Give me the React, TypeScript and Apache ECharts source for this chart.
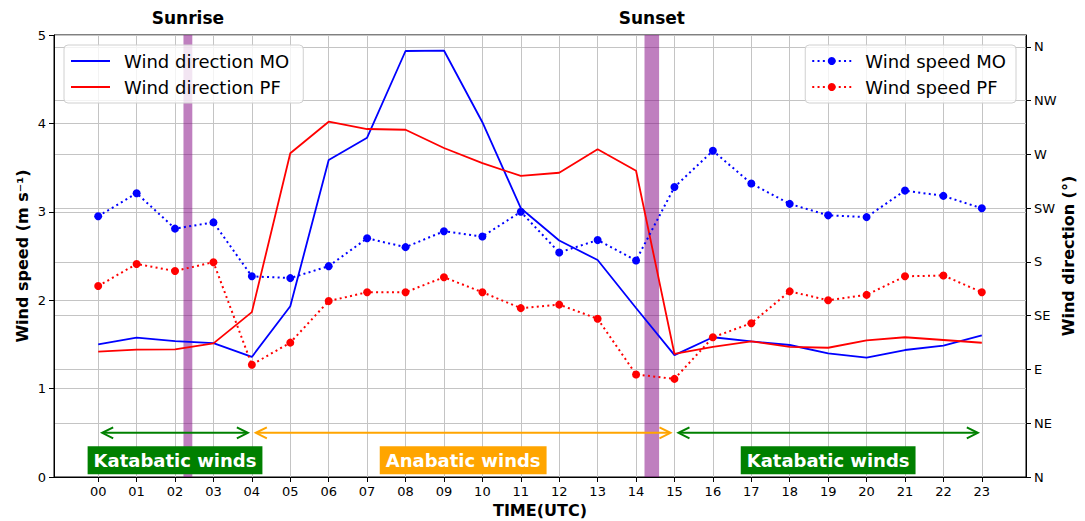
import { useEffect, useRef } from "react";
import * as echarts from "echarts";

// Hour of day (UTC)
const hours = [0, 1, 2, 3, 4, 5, 6, 7, 8, 9, 10, 11, 12, 13, 14, 15, 16, 17, 18, 19, 20, 21, 22, 23];

// Wind direction (degrees) at the two stations
const dirMO = [111, 116.6, 113.8, 112, 100.5, 143, 265.3, 284, 356.6, 357, 297, 225, 198, 181.6, 141.5, 102, 117, 113.5, 110.5, 103.5, 100, 106.3, 110, 118.6];
const dirPF = [104.9, 106.6, 106.9, 111.9, 138, 271, 297.4, 291.3, 290.7, 275.4, 262.8, 252, 254.7, 274.3, 256.4, 103, 109, 113.5, 109, 108.2, 114.4, 117, 114.7, 112.4];

// Wind speed (m/s) at the two stations
const speedMO = [2.95, 3.21, 2.81, 2.88, 2.27, 2.25, 2.385, 2.7, 2.6, 2.78, 2.72, 3.0, 2.54, 2.68, 2.45, 3.28, 3.69, 3.32, 3.09, 2.96, 2.94, 3.24, 3.18, 3.04];
const speedPF = [2.16, 2.41, 2.33, 2.43, 1.27, 1.52, 1.99, 2.09, 2.09, 2.26, 2.09, 1.91, 1.95, 1.79, 1.16, 1.11, 1.58, 1.74, 2.1, 2.0, 2.06, 2.27, 2.28, 2.09];

// Right axis: compass ticks
const compassTicks = [0, 45, 90, 135, 180, 225, 270, 315, 360];
const compassLabels = ["N", "NE", "E", "SE", "S", "SW", "W", "NW", "N"];

// Sunrise / sunset windows (hours)
const sunNames = ["Sunrise", "Sunset"];
const sunFrom = [2.22, 14.22];
const sunTo = [2.45, 14.6];

// Wind regimes
const regimeStart = [0, 4, 15];
const regimeEnd = [4, 15, 23];
const regimeCenter = [2, 9.5, 19];
const regimeNames = ["Katabatic winds", "Anabatic winds", "Katabatic winds"];
const regimeColors = ["#008000", "#ffa500", "#008000"];
const arrowLevel = 0.5;
const labelLevel = 0.19;

const FONT = "DejaVu Sans";
const BLUE = "#0000ff";
const RED = "#ff0000";
const GRID = "#c4c4c4";

const pad2 = (v: number) => (v < 10 ? "0" + v : String(v));

export default function App() {
  const ref = useRef<HTMLDivElement>(null);

  useEffect(() => {
    if (!ref.current) return;
    const chart = echarts.init(ref.current, undefined, { renderer: "svg" });

    const pairs = (vals: number[]) => hours.map((h, i) => [h, vals[i]]);

    const axisText = { fontFamily: FONT, fontSize: 13, color: "#000" };
    const nameText = { fontFamily: FONT, fontSize: 16, fontWeight: "bold" as const, color: "#000" };

    const legendBase = {
      orient: "vertical" as const,
      top: 45,
      backgroundColor: "rgba(255,255,255,0.8)",
      borderColor: "#d0d0d0",
      borderWidth: 1,
      borderRadius: 4,
      padding: [7, 14, 7, 6],
      itemWidth: 39,
      itemHeight: 10,
      itemGap: 8,
      selectedMode: false,
      textStyle: { fontFamily: FONT, fontSize: 18, color: "#000", lineHeight: 18, padding: [0, 0, 0, 9] },
    };

    const option: any = {
      animation: false,
      backgroundColor: "#fff",
      textStyle: { fontFamily: FONT },
      grid: {
        left: 54,
        right: 59,
        top: 35,
        bottom: 44,
        outerBoundsMode: "none",
        containLabel: false,
        show: true,
        borderColor: "#000",
        borderWidth: 1,
      },
      legend: [
        {
          ...legendBase,
          left: 64,
          data: [
            { name: "Wind direction MO", itemStyle: { opacity: 0 } },
            { name: "Wind direction PF", itemStyle: { opacity: 0 } },
          ],
        },
        { ...legendBase, right: 69, padding: [7, 10, 7, 6], data: ["Wind speed MO", "Wind speed PF"] },
      ],
      xAxis: {
        type: "value",
        min: -1.15,
        max: 24.15,
        name: "TIME(UTC)",
        nameLocation: "middle",
        nameGap: 25,
        nameMoveOverlap: false,
        nameTextStyle: nameText,
        axisLine: { show: true, onZero: false, lineStyle: { color: "#000", width: 1 } },
        axisTick: { show: true, customValues: hours, length: 5, lineStyle: { color: "#000" } },
        axisLabel: { customValues: hours, formatter: (v: number) => pad2(v), margin: 8, ...axisText },
        splitLine: { show: true, lineStyle: { color: GRID, width: 1 } },
      },
      yAxis: [
        {
          type: "value",
          min: 0,
          max: 5,
          interval: 1,
          position: "left",
          name: "Wind speed (m s⁻¹)",
          nameLocation: "middle",
          nameGap: 24,
          nameMoveOverlap: false,
          nameRotate: 90,
          nameTextStyle: nameText,
          axisLine: { show: true, onZero: false, lineStyle: { color: "#000", width: 1 } },
          axisTick: { show: true, length: 5, lineStyle: { color: "#000" } },
          axisLabel: { margin: 8, ...axisText },
          splitLine: { show: true, lineStyle: { color: GRID, width: 1 } },
        },
        {
          type: "value",
          min: 0,
          max: 370,
          position: "right",
          name: "Wind direction (°)",
          nameLocation: "middle",
          nameGap: 34,
          nameMoveOverlap: false,
          nameRotate: 90,
          nameTextStyle: nameText,
          axisLine: { show: true, onZero: false, lineStyle: { color: "#000", width: 1 } },
          axisTick: { show: true, customValues: compassTicks, length: 5, lineStyle: { color: "#000" } },
          axisLabel: {
            customValues: compassTicks,
            formatter: (v: number) => compassLabels[compassTicks.indexOf(v)] ?? "",
            margin: 8,
            ...axisText,
          },
          splitLine: { show: true, lineStyle: { color: GRID, width: 1 } },
        },
      ],
      series: [
        {
          name: "sun",
          type: "line",
          data: [],
          silent: true,
          z: 1,
          markArea: {
            silent: true,
            itemStyle: { color: "rgba(128,0,128,0.5)" },
            label: {
              show: true,
              position: "top",
              distance: 9,
              fontFamily: FONT,
              fontSize: 17,
              fontWeight: "bold",
              color: "#000",
            },
            data: sunNames.map((n, i) => [{ name: n, xAxis: sunFrom[i] }, { xAxis: sunTo[i] }]),
          },
        },
        {
          name: "Wind direction MO",
          type: "line",
          yAxisIndex: 1,
          data: pairs(dirMO),
          symbol: "none",
          color: BLUE,
          lineStyle: { color: BLUE, width: 1.8 },
          z: 3,
        },
        {
          name: "Wind direction PF",
          type: "line",
          yAxisIndex: 1,
          data: pairs(dirPF),
          symbol: "none",
          color: RED,
          lineStyle: { color: RED, width: 1.8 },
          z: 3,
        },
        {
          name: "Wind speed MO",
          type: "line",
          yAxisIndex: 0,
          data: pairs(speedMO),
          symbol: "circle",
          symbolSize: 8,
          color: BLUE,
          itemStyle: { color: BLUE },
          lineStyle: { color: BLUE, width: 2, type: [2, 3.3] },
          z: 4,
        },
        {
          name: "Wind speed PF",
          type: "line",
          yAxisIndex: 0,
          data: pairs(speedPF),
          symbol: "circle",
          symbolSize: 8,
          color: RED,
          itemStyle: { color: RED },
          lineStyle: { color: RED, width: 2, type: [2, 3.3] },
          z: 4,
        },
        {
          name: "regime arrows",
          type: "custom",
          yAxisIndex: 0,
          silent: true,
          z: 5,
          data: regimeStart.map((s, i) => [s, regimeEnd[i], arrowLevel]),
          encode: { x: [0, 1], y: 2 },
          renderItem: (params: any, api: any) => {
            const a = api.coord([api.value(0), api.value(2)]);
            const b = api.coord([api.value(1), api.value(2)]);
            const color = regimeColors[params.dataIndex];
            const x0 = a[0] + 4;
            const x1 = b[0] - 4;
            const y = a[1];
            const hl = 11;
            const hw = 5.5;
            const st = { stroke: color, lineWidth: 2, fill: null };
            return {
              type: "group",
              children: [
                { type: "line", shape: { x1: x0 + 1, y1: y, x2: x1 - 1, y2: y }, style: st },
                { type: "polyline", shape: { points: [[x0 + hl, y - hw], [x0, y], [x0 + hl, y + hw]] }, style: st },
                { type: "polyline", shape: { points: [[x1 - hl, y - hw], [x1, y], [x1 - hl, y + hw]] }, style: st },
              ],
            };
          },
        },
        {
          name: "regime labels",
          type: "custom",
          yAxisIndex: 0,
          silent: true,
          z: 6,
          data: regimeCenter.map((c) => [c, labelLevel]),
          renderItem: (params: any, api: any) => {
            const p = api.coord([api.value(0), api.value(1)]);
            return {
              type: "text",
              x: p[0],
              y: p[1],
              style: {
                text: regimeNames[params.dataIndex],
                fill: "#fff",
                fontFamily: FONT,
                fontSize: 18,
                fontWeight: "bold",
                lineHeight: 20,
                backgroundColor: regimeColors[params.dataIndex],
                padding: [4, 6, 4, 6],
                align: "center",
                verticalAlign: "middle",
              },
            };
          },
        },
      ],
    };

    chart.setOption(option);
    return () => chart.dispose();
  }, []);

  return (
    <div
      ref={ref}
      style={{ position: "fixed", left: 0, top: 0, width: 1085, height: 521, background: "#fff" }}
    />
  );
}
